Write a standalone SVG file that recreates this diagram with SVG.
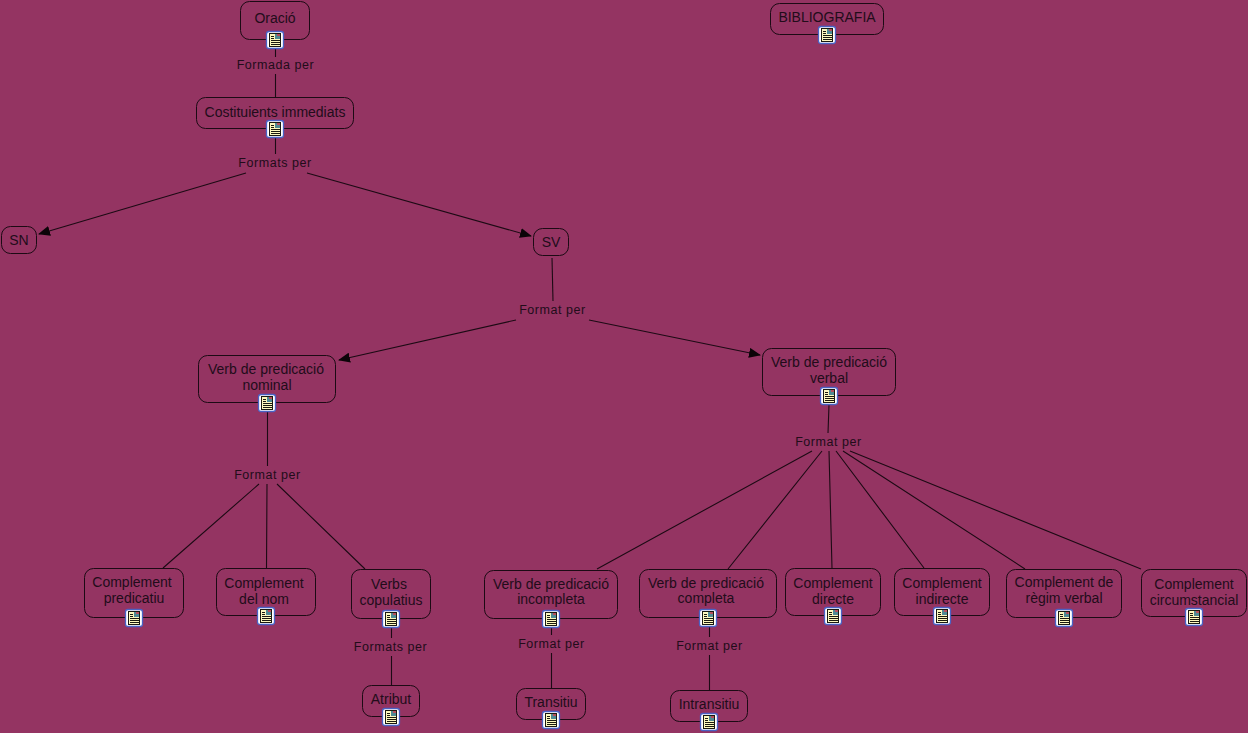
<svg xmlns="http://www.w3.org/2000/svg" width="1248" height="733" viewBox="0 0 1248 733">
<style>
.n{fill:none;stroke:#1c0a14;stroke-width:1}
.t{font:14px "Liberation Sans",Arial,sans-serif;fill:#220c1a;text-anchor:middle}
.l{font:12.5px "Liberation Sans",Arial,sans-serif;letter-spacing:.55px;fill:#220c1a;text-anchor:middle}
.c{fill:none;stroke:#1c0a14;stroke-width:1.1}
</style>
<defs>
<marker id="a" viewBox="0 0 12 10" refX="11" refY="5" markerWidth="12" markerHeight="10" markerUnits="userSpaceOnUse" orient="auto"><path d="M0 0L12 5L0 10z" fill="#0c0408"/></marker>
<g id="i">
<rect x="-8.5" y="-8.5" width="17" height="17" rx="2.500" fill="#fff" stroke="#4a62c4" stroke-width="1.300"/>
<rect x="-5.500" y="-6.500" width="11" height="13" fill="#fdf9bf" stroke="#1a1a10" stroke-width="1"/>
<path d="M-4-3.500H-1M-4-1.500H-1M-4 .5H5M-4 2.500H5M-4 4.500H5" stroke="#1a1a10" stroke-width="1" fill="none"/>
<rect x="0" y="-6" width="5" height="5" fill="#4f8a94"/>
<rect x="2" y="-6" width="3" height="2" fill="#b8505e"/>
</g>
</defs>
<rect width="1248" height="733" fill="#943462"/>
<g id="connectors" class="c">
<path d="M275.500 49V57M275.500 74V97M275.500 138V154"/>
<path d="M246 173L39 234" marker-end="url(#a)"/>
<path d="M307 173L531 236" marker-end="url(#a)"/>
<path d="M552 258L553 301"/>
<path d="M516 320L339 360" marker-end="url(#a)"/>
<path d="M589 320L760 355" marker-end="url(#a)"/>
<path d="M267.500 412V466M259 484L163 568M267 484L266.500 568M277 484L365 569"/>
<path d="M829 405L828 433M812 451L597 569M822 451L728 569M829 451L832 568M836 451L924 568M843 451L1025 569M850 451L1141 569"/>
<path d="M391.500 628V638M391.500 656V685M551.500 628V635M551.500 653V688M709.500 627V637M709.500 655V690"/>
</g>
<g id="oracio"><rect class="n" x="240.500" y="1.500" width="69" height="38" rx="9"/><text class="t" x="275" y="23">Oració</text><use href="#i" x="275" y="40"/></g>
<g id="bibliografia"><rect class="n" x="770.500" y="3.500" width="113" height="31" rx="9"/><text class="t" x="827" y="22">BIBLIOGRAFIA</text><use href="#i" x="827" y="35"/></g>
<g id="costituients"><rect class="n" x="196.500" y="97.500" width="157" height="31" rx="9"/><text class="t" x="275" y="116.500">Costituients immediats</text><use href="#i" x="275" y="129"/></g>
<g id="sn"><rect class="n" x="1.500" y="226.500" width="35" height="27" rx="9"/><text class="t" x="19" y="245">SN</text></g>
<g id="sv"><rect class="n" x="533.500" y="228.500" width="35" height="27" rx="9"/><text class="t" x="551" y="247">SV</text></g>
<g id="vpn"><rect class="n" x="198.500" y="355.500" width="137" height="47" rx="9"/><text class="t" x="266" y="374">Verb de predicació</text><text class="t" x="267" y="390">nominal</text><use href="#i" x="267" y="403"/></g>
<g id="vpv"><rect class="n" x="762.500" y="348.500" width="133" height="47" rx="9"/><text class="t" x="829" y="367">Verb de predicació</text><text class="t" x="829" y="383">verbal</text><use href="#i" x="829" y="396"/></g>
<g id="cpred"><rect class="n" x="84.500" y="568.500" width="99" height="49" rx="9"/><text class="t" x="132" y="586.500">Complement</text><text class="t" x="134" y="602.500">predicatiu</text><use href="#i" x="134" y="618"/></g>
<g id="cnom"><rect class="n" x="216.500" y="568.500" width="99" height="47" rx="9"/><text class="t" x="264" y="587.500">Complement</text><text class="t" x="264" y="603.500">del nom</text><use href="#i" x="266" y="616"/></g>
<g id="vcop"><rect class="n" x="351.500" y="569.500" width="79" height="49" rx="9"/><text class="t" x="389" y="588.500">Verbs</text><text class="t" x="391" y="604.500">copulatius</text><use href="#i" x="391" y="619"/></g>
<g id="atribut"><rect class="n" x="362.500" y="685.500" width="57" height="31" rx="9"/><text class="t" x="391" y="704">Atribut</text><use href="#i" x="391" y="717"/></g>
<g id="vinc"><rect class="n" x="484.500" y="570.500" width="133" height="48" rx="9"/><text class="t" x="551" y="588.500">Verb de predicació</text><text class="t" x="551" y="604">incompleta</text><use href="#i" x="551" y="619"/></g>
<g id="vcom"><rect class="n" x="639.500" y="569.500" width="137" height="48" rx="9"/><text class="t" x="706" y="587.500">Verb de predicació</text><text class="t" x="706" y="603">completa</text><use href="#i" x="708" y="618"/></g>
<g id="cdir"><rect class="n" x="785.500" y="568.500" width="95" height="47" rx="9"/><text class="t" x="833" y="587.500">Complement</text><text class="t" x="833" y="603.500">directe</text><use href="#i" x="833" y="616"/></g>
<g id="cind"><rect class="n" x="894.500" y="568.500" width="95" height="47" rx="9"/><text class="t" x="942" y="587.500">Complement</text><text class="t" x="942" y="603.500">indirecte</text><use href="#i" x="942" y="616"/></g>
<g id="creg"><rect class="n" x="1006.500" y="569.500" width="115" height="48" rx="9"/><text class="t" x="1064" y="586.500">Complement de</text><text class="t" x="1064" y="602.500">règim verbal</text><use href="#i" x="1064" y="618"/></g>
<g id="ccir"><rect class="n" x="1141.500" y="569.500" width="105" height="47" rx="9"/><text class="t" x="1194" y="588.500">Complement</text><text class="t" x="1194" y="604.500">circumstancial</text><use href="#i" x="1194" y="617"/></g>
<g id="trans"><rect class="n" x="516.500" y="688.500" width="69" height="31" rx="9"/><text class="t" x="551" y="707">Transitiu</text><use href="#i" x="551" y="720"/></g>
<g id="intrans"><rect class="n" x="670.500" y="690.500" width="77" height="31" rx="9"/><text class="t" x="709" y="709">Intransitiu</text><use href="#i" x="709" y="722"/></g>
<g id="labels">
<text class="l" x="275.500" y="69">Formada per</text>
<text class="l" x="275" y="167">Formats per</text>
<text class="l" x="552.500" y="314">Format per</text>
<text class="l" x="267.500" y="479">Format per</text>
<text class="l" x="828.500" y="446">Format per</text>
<text class="l" x="390.500" y="651">Formats per</text>
<text class="l" x="551.500" y="648">Format per</text>
<text class="l" x="709.500" y="650">Format per</text>
</g>
</svg>
